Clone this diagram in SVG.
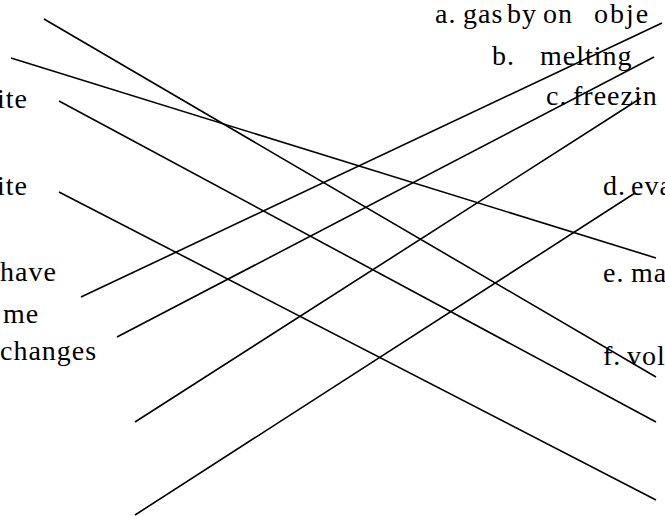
<svg xmlns="http://www.w3.org/2000/svg" width="665" height="516" viewBox="0 0 665 516">
<style>
text{font-family:"Liberation Serif","Times New Roman",serif;font-size:28px;fill:#000;letter-spacing:1px;white-space:pre}
.c line{stroke:#000;stroke-width:1.6;fill:none}
</style>
<rect width="665" height="516" fill="#fff"/>
<g id="left1"><text x="-3" y="108">ite</text></g>
<g id="left2"><text x="-3" y="195">ite</text></g>
<g id="left3"><text x="0" y="281">have</text></g>
<g id="left4"><text x="3" y="323">me</text></g>
<g id="left5"><text x="0" y="360">changes</text></g>
<g id="right-a"><text y="23"><tspan x="435">a.</tspan><tspan x="463">gas</tspan><tspan x="507">by</tspan><tspan x="543">on</tspan><tspan x="594" letter-spacing="2">obje</tspan></text></g>
<g id="right-b"><text y="65"><tspan x="492">b.</tspan><tspan x="540">melting</tspan></text></g>
<g id="right-c"><text y="105"><tspan x="546">c.</tspan><tspan x="573">freezin</tspan></text></g>
<g id="right-d"><text y="195"><tspan x="603">d.</tspan><tspan x="631">eva</tspan></text></g>
<g id="right-e"><text y="282"><tspan x="603">e.</tspan><tspan x="631">ma</tspan></text></g>
<g id="right-f"><text y="365"><tspan x="603">f.</tspan><tspan x="627">vol</tspan></text></g>
<g id="connectors" class="c">
<line x1="44" y1="19" x2="656" y2="377"/>
<line x1="11" y1="58" x2="656" y2="258"/>
<line x1="59" y1="101" x2="656" y2="422"/>
<line x1="59" y1="192" x2="656" y2="500"/>
<line x1="81" y1="297" x2="662" y2="23"/>
<line x1="117" y1="337" x2="654" y2="57"/>
<line x1="135" y1="422" x2="641" y2="98"/>
<line x1="135" y1="515" x2="635" y2="193"/>
</g>
</svg>
